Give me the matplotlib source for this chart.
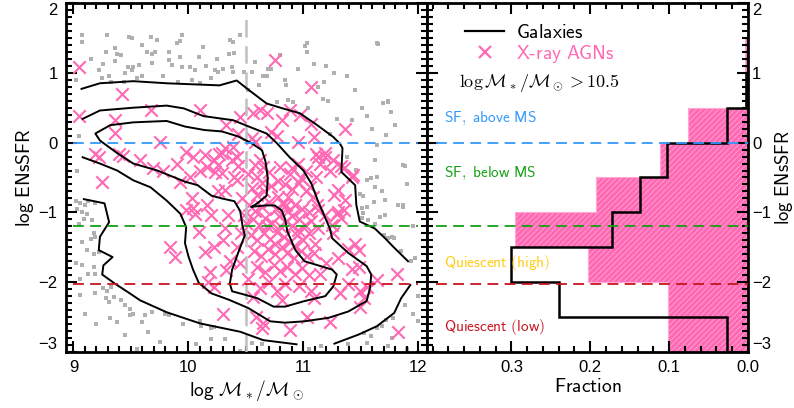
"""
Galaxies vs X-ray AGNs: ENsSFR against stellar mass, and ENsSFR distributions
for the massive (log M* > 10.5) samples.
"""

import numpy as np
import matplotlib.pyplot as plt
from matplotlib.ticker import MultipleLocator
from matplotlib.lines import Line2D

plt.rcParams['font.family'] = ['Liberation Sans', 'DejaVu Sans']
plt.rcParams['mathtext.fontset'] = 'cm'
plt.rcParams['hatch.linewidth'] = 0.6

PINK = '#ff69b4'
GREY = '#b0b0b0'
C_ABOVE = '#3399ff'
C_BELOW = '#16a016'
C_QHIGH = '#ffcc11'
C_QLOW = '#c8141e'

# ============================================================
#  DATA
# ============================================================
# galaxies outside the density contours (log M*, log ENsSFR)
gal_points = [
    (9.07, 1.54), (9.07, 1.44), (9.29, 1.54), (9.28, 1.30), (9.36, 1.35), (9.38, 1.27),
    (9.36, 1.17), (9.26, 1.13), (9.22, 1.04), (9.31, 0.96), (9.25, 0.92), (9.33, 0.87),
    (9.41, 1.25), (9.48, 1.51), (9.51, 1.50), (9.47, 1.08), (9.52, 1.08), (9.51, 1.04),
    (9.57, 1.11), (9.60, 0.96), (9.55, 0.92), (9.45, 0.99), (9.44, 0.87), (9.64, 1.30),
    (9.68, 1.27), (9.71, 1.30), (9.73, 1.47), (9.68, 1.14), (9.67, 1.51), (9.83, 1.30),
    (9.83, 1.19), (9.90, 1.43), (9.93, 1.45), (9.93, 1.23), (9.86, 1.11), (9.94, 1.09),
    (9.91, 0.87), (9.94, 1.54), (9.02, 0.89), (10.36, 1.47), (10.39, 1.44), (10.45, 1.54),
    (10.13, 1.37), (10.35, 1.27), (10.40, 1.28), (10.09, 1.23), (10.01, 1.08), (10.06, 1.04),
    (10.23, 1.04), (10.26, 1.01), (10.30, 1.06), (10.38, 1.08), (10.39, 1.01), (10.20, 0.92),
    (10.03, 0.89), (10.10, 0.85), (10.48, 1.01), (10.52, 0.75), (10.55, 1.01), (10.65, 0.96),
    (10.68, 0.96), (10.69, 1.06), (10.72, 1.06), (10.61, 0.82), (10.84, 0.89), (10.85, 0.82),
    (10.77, 0.58), (10.87, 0.61), (10.91, 0.58), (11.01, 1.39), (11.65, 1.41), (11.03, 1.42),
    (11.03, 1.30), (11.09, 1.12), (11.27, 0.99), (11.38, 0.96), (11.18, 0.87), (11.13, 0.80),
    (11.17, 0.62), (11.21, 0.59), (11.04, 0.49), (11.51, 0.50), (11.55, 0.38), (11.69, 0.57),
    (11.74, 0.60), (11.76, 0.44), (11.29, 0.34), (11.42, 0.33),
    (9.15, 1.20), (9.60, 1.40), (9.78, 0.95), (10.15, 1.10), (10.25, 1.20), (10.58, 1.15),
    (10.80, 1.25), (10.95, 1.05), (11.20, 1.10), (11.45, 0.75), (11.60, 0.20), (11.80, 0.25),
    (11.23, 0.13), (11.64, -0.03), (11.72, 0.11), (11.87, -0.32), (11.62, -0.25), (11.38, -0.20),
    (11.36, -0.37), (11.46, -0.39), (11.55, -0.54), (11.59, -0.51), (11.64, -0.50), (11.62, -0.63),
    (11.49, -0.73), (11.52, -0.77), (11.68, -0.70), (11.71, -0.82), (11.82, -0.89), (11.87, -0.92),
    (11.51, -0.94), (11.55, -0.92), (11.52, -1.01), (11.51, -1.08), (11.56, -1.11), (11.71, -1.04),
    (11.62, -1.16), (11.70, -1.32), (11.77, -1.35), (11.61, -0.85), (11.67, -1.07), (11.87, -0.90),
    (11.88, -0.33), (11.64, 1.42), (11.74, 0.58), (11.90, -0.60), (11.95, -1.20), (11.85, -1.55),
    (11.74, -1.37), (11.79, -1.37), (11.94, -1.70), (11.97, -1.65), (12.00, -2.20), (12.00, -2.56),
    (11.88, -2.32), (11.72, -2.54), (11.78, -2.51), (11.68, -2.63), (11.64, -2.66), (11.77, -2.80),
    (11.59, -2.77), (11.55, -2.87), (11.39, -2.89), (11.74, -2.92), (11.53, -2.73), (11.90, -2.95),
    (11.95, -2.45),
    (9.05, 0.10), (9.03, -0.40),
    (9.02, -0.83), (9.06, -0.87), (9.10, -0.90), (9.13, -0.84), (9.19, -0.87), (9.03, -0.95),
    (9.07, -1.00), (9.12, -1.03), (9.09, -1.09), (9.16, -1.11), (9.05, -1.16), (9.18, -1.30),
    (9.19, -1.35), (9.15, -1.38), (9.07, -1.42), (9.12, -1.54), (9.18, -1.59), (9.22, -1.57),
    (9.02, -1.73), (9.07, -1.76), (9.18, -1.78), (9.13, -1.88), (9.19, -1.88), (9.06, -1.95),
    (9.26, -2.09), (9.29, -2.12), (9.33, -2.07), (9.19, -2.16), (9.06, -2.19), (9.28, -2.23),
    (9.35, -2.21), (9.31, -2.28), (9.41, -2.26), (9.45, -2.33), (9.49, -2.38), (9.52, -2.45),
    (9.49, -2.47), (9.62, -2.47), (9.68, -2.43), (9.60, -2.57), (9.80, -2.45), (9.83, -2.47),
    (9.32, -2.52), (9.38, -2.57), (9.65, -2.71), (9.55, -2.95), (9.10, -2.45), (9.20, -2.60),
    (9.45, -2.75), (9.75, -2.85),
    (10.11, -2.63), (10.20, -2.66), (10.07, -2.89), (10.20, -2.82), (10.32, -2.82), (10.55, -2.87),
    (10.64, -2.89), (10.10, -2.55), (10.22, -2.64), (9.95, -2.60), (11.05, -2.95), (11.15, -2.92),
    (10.45, -2.98),
]

# X-ray AGN hosts (log M*, log ENsSFR)
agn_points = [
    (9.05, 1.09), (9.05, 0.38), (9.42, 0.69), (9.36, 0.33), (9.36, 0.14), (9.67, 0.47),
    (9.75, 0.01), (9.19, -0.17), (9.22, -0.21), (9.25, -0.56), (9.40, -0.16), (9.43, -0.19),
    (9.58, -0.25), (9.69, -0.37), (9.78, -0.40), (9.90, -0.30), (9.93, -0.56), (9.98, -0.13),
    (10.04, -0.21), (10.03, -0.80), (10.10, 0.46), (10.10, -0.40), (10.16, -0.35), (10.22, -0.25),
    (10.27, -0.16), (10.29, -0.44), (10.33, 0.25), (10.39, -0.06), (10.42, -0.21), (10.42, -0.54),
    (10.45, 0.37), (10.43, 0.13), (10.56, 0.42), (10.62, 0.46), (10.68, 0.42), (10.58, 0.01),
    (10.62, -0.25), (10.65, -0.35), (10.72, 0.15), (10.77, 0.10), (10.75, 1.19), (10.81, 0.32),
    (10.88, 0.46), (10.97, 0.39), (10.95, 0.01), (11.07, 0.80), (11.07, 0.27), (11.09, 0.08),
    (11.36, 0.20), (11.33, -0.33), (11.43, -0.47), (11.11, -0.16), (11.14, -0.30), (11.19, -0.21),
    (11.26, -0.25), (11.23, -0.40), (11.11, -0.49), (11.06, -0.64), (11.30, -0.68),
    (10.14, -0.18), (10.01, -0.49), (10.23, -0.42), (10.26, -0.32), (10.29, -0.15), (10.32, -0.08),
    (10.38, -0.25), (10.40, -0.49), (10.43, -0.34), (10.32, -0.68), (10.26, -0.70), (10.04, -0.94),
    (10.16, -0.89), (10.20, -1.04), (10.34, -1.04), (10.32, -1.23), (10.55, 0.06), (10.58, -0.32),
    (10.64, -0.58), (10.90, -0.37), (10.98, -0.51),
    (9.84, -1.50), (9.88, -1.64), (9.98, -0.97), (10.06, -1.02), (10.09, -1.28), (10.14, -1.57),
    (10.22, -1.50), (10.19, -1.85), (10.17, -2.00), (10.22, -2.07), (10.30, -2.45), (10.33, -1.83),
    (10.36, -1.69), (10.30, -1.40), (10.45, -1.73), (10.48, -1.04), (10.42, -1.50), (10.56, -2.21),
    (10.59, -2.50), (10.65, -2.59), (10.64, -2.66), (10.81, -2.26), (10.77, -2.12), (10.88, -2.69),
    (11.03, -2.50), (11.09, -2.23), (11.07, -2.12), (11.23, -2.57), (11.32, -2.16), (11.39, -2.02),
    (11.42, -1.81), (11.49, -2.12), (11.49, -2.36), (11.53, -2.23), (11.55, -2.07), (11.64, -1.97),
    (11.48, -1.78), (11.81, -1.88), (11.82, -2.71), (11.45, -1.45), (11.39, -1.52), (11.48, -1.54),
    (11.26, -1.30), (11.29, -1.02), (11.35, -0.97), (11.30, -1.66), (11.20, -1.73), (11.14, -1.88),
    (11.13, -0.20), (11.19, -0.15), (11.35, -0.37), (11.42, -0.49), (11.27, -0.75), (11.36, -0.82),
    (11.30, -0.99), (11.33, -1.08), (11.19, -1.04), (11.13, -0.97), (11.25, -1.18),
    (10.55, -0.65), (10.60, -0.75), (10.66, -0.70), (10.72, -0.62), (10.78, -0.55), (10.84, -0.60),
    (10.90, -0.66), (10.96, -0.58), (11.02, -0.70), (11.08, -0.78), (10.53, -0.90), (10.58, -0.98),
    (10.64, -0.92), (10.70, -0.85), (10.76, -0.95), (10.82, -0.88), (10.87, -0.98), (10.93, -0.90),
    (10.99, -0.95), (11.05, -1.00), (11.12, -0.90), (10.56, -1.10), (10.61, -1.18), (10.67, -1.08),
    (10.73, -1.15), (10.79, -1.05), (10.85, -1.12), (10.90, -1.20), (10.96, -1.10), (11.01, -1.18),
    (11.07, -1.12), (11.13, -1.22), (10.54, -1.32), (10.60, -1.40), (10.66, -1.30), (10.71, -1.38),
    (10.77, -1.28), (10.83, -1.35), (10.88, -1.42), (10.94, -1.32), (11.00, -1.40), (11.05, -1.30),
    (11.10, -1.45), (10.57, -1.55), (10.63, -1.62), (10.69, -1.52), (10.75, -1.60), (10.81, -1.50),
    (10.86, -1.58), (10.92, -1.65), (10.98, -1.55), (11.03, -1.62), (11.09, -1.58), (10.60, -1.78),
    (10.67, -1.85), (10.74, -1.76), (10.80, -1.84), (10.86, -1.78), (10.93, -1.88), (10.99, -1.80),
    (11.05, -1.90), (10.70, -2.00), (10.84, -2.02), (10.96, -2.05), (10.52, -0.45), (10.60, -0.50),
    (10.70, -0.42), (10.80, -0.35), (10.88, -0.45), (10.95, -0.30), (11.02, -0.40), (10.52, -1.95),
    (10.62, -2.08), (10.87, -0.78), (10.80, -1.20), (10.90, -1.05), (10.85, -0.90), (10.75, -1.45),
    (10.95, -1.25), (10.68, -1.20), (10.78, -0.78), (10.92, -1.48), (10.47, -0.80), (10.50, -1.15),
    (10.46, -1.30),
]

# galaxy density contours (open where they leave the sampled region)
contour_outer_top = [
    (9.07, 0.77), (9.23, 0.85), (9.52, 0.88), (9.81, 0.85), (10.27, 0.82), (10.42, 0.89),
    (10.52, 0.76), (10.68, 0.56), (10.82, 0.49), (10.97, 0.42), (11.12, 0.25), (11.26, 0.08),
    (11.32, -0.02), (11.34, -0.08), (11.33, -0.42), (11.45, -0.61), (11.46, -0.89), (11.49, -1.13),
    (11.62, -1.23), (11.71, -1.37), (11.78, -1.49), (11.91, -1.70),
]
contour_outer_left = [
    (9.09, -0.81), (9.27, -0.87), (9.31, -1.14), (9.23, -1.35), (9.22, -1.54), (9.34, -1.64),
    (9.26, -1.76), (9.25, -1.89), (9.36, -2.02), (9.49, -2.16), (9.58, -2.26), (9.81, -2.43),
    (10.10, -2.59), (10.45, -2.71), (10.65, -2.83), (10.94, -2.89),
]
contour_outer_right = [
    (11.93, -2.04), (11.85, -2.23), (11.79, -2.44), (11.64, -2.63), (11.48, -2.75), (11.27, -2.88),
]
contour_mid = [
    (9.08, 0.34), (9.23, 0.46), (9.52, 0.50), (9.81, 0.53), (9.96, 0.49), (10.13, 0.38),
    (10.39, 0.32), (10.54, 0.22), (10.68, 0.13), (10.77, -0.01), (10.88, -0.21), (11.00, -0.40),
    (11.07, -0.59), (11.13, -0.85), (11.23, -1.23), (11.25, -1.37), (11.39, -1.58), (11.55, -1.77),
    (11.59, -1.89), (11.58, -2.08), (11.55, -2.27), (11.39, -2.42), (11.22, -2.51), (11.01, -2.56),
    (10.84, -2.58), (10.71, -2.56), (10.64, -2.49), (10.52, -2.37), (10.35, -2.25), (10.20, -2.16),
    (10.09, -2.01), (10.04, -1.82), (10.00, -1.63), (9.97, -1.44), (9.98, -1.21), (9.93, -1.02),
    (9.81, -0.83), (9.67, -0.64), (9.52, -0.54), (9.38, -0.40), (9.23, -0.30), (9.08, -0.21),
]
# innermost level: star-forming lobe joined to the quiescent lobe through a neck
contour_inner = [
    (10.55, -0.92), (10.67, -0.90), (10.75, -0.90), (10.81, -0.97), (10.84, -1.09), (10.86, -1.27),
    (10.93, -1.54), (11.01, -1.70), (11.25, -1.82), (11.29, -1.89), (11.26, -2.06), (11.19, -2.20),
    (11.01, -2.27), (10.84, -2.35), (10.74, -2.35), (10.60, -2.23), (10.47, -2.17), (10.38, -2.13),
    (10.36, -2.02), (10.38, -1.82), (10.43, -1.59), (10.49, -1.33), (10.47, -1.19), (10.45, -0.98),
    (10.40, -0.84), (10.29, -0.80), (10.20, -0.76), (10.08, -0.61), (9.97, -0.56), (9.73, -0.40),
    (9.52, -0.30), (9.38, -0.15), (9.23, 0.03), (9.19, 0.13), (9.32, 0.25), (9.52, 0.29),
    (9.81, 0.31), (9.97, 0.23), (10.14, 0.18), (10.29, 0.16), (10.43, 0.09), (10.55, -0.01),
    (10.64, -0.11), (10.67, -0.27), (10.69, -0.51), (10.68, -0.76), (10.60, -0.87), (10.55, -0.92),
]
contour_paths = [contour_outer_top, contour_outer_left, contour_outer_right,
                 contour_mid, contour_inner]

# ENsSFR class boundaries
ensfr_above_ms = 0.0
ensfr_below_ms = -1.2
ensfr_quiescent = -2.03
mass_cut = 10.5

# ENsSFR histograms for log M* > 10.5
ensfr_edges = [-3.0, -2.5, -2.0, -1.5, -1.0, -0.5, 0.0, 0.5, 1.0, 1.5]
frac_gal = [0.027, 0.240, 0.300, 0.173, 0.137, 0.103, 0.027, 0.003, 0.0]
frac_agn = [0.101, 0.101, 0.203, 0.296, 0.193, 0.111, 0.076, 0.004, 0.004]

ensfr_ticks = [-3, -2, -1, 0, 1, 2]

gal_mass, gal_ensfr = np.array(gal_points).T
agn_mass, agn_ensfr = np.array(agn_points).T

# ============================================================
#  FIGURE
# ============================================================
W, H = 794, 408
fig = plt.figure(figsize=(W / 100, H / 100), dpi=100)
ax1 = fig.add_axes([66 / W, 56 / H, 361 / W, 349 / H])
ax2 = fig.add_axes([427 / W, 56 / H, 321 / W, 349 / H])

dash = (0, (6, 3.5))
for ax in (ax1, ax2):
    for sp in ax.spines.values():
        sp.set_linewidth(2.0)
    ax.tick_params(which='both', direction='in', top=True, right=True, width=1.5,
                   labelsize=12)
    ax.tick_params(which='major', length=8)
    ax.tick_params(which='minor', length=4)
    ax.set_ylim(-3, 2)
    ax.set_yticks(ensfr_ticks)
    ax.yaxis.set_minor_locator(MultipleLocator(0.1))
ax1.tick_params(axis='both', pad=6)
ax2.tick_params(axis='x', pad=6)
ax2.tick_params(axis='y', pad=3)

# ---- left: ENsSFR vs stellar mass ----
ax1.scatter(gal_mass, gal_ensfr, s=5, marker='s', color=GREY, lw=0, zorder=1)
ax1.scatter(agn_mass, agn_ensfr, s=80, marker='x', color=PINK, lw=1.5, zorder=2)
for path in contour_paths:
    px, py = np.array(path).T
    ax1.plot(px, py, color='k', lw=1.4, zorder=4)
ax1.vlines(mass_cut, -3, 1.85, color='#c0c0c0', lw=1.8, ls=(0, (7, 3.5)), zorder=3)
for yv, c in [(ensfr_above_ms, C_ABOVE), (ensfr_below_ms, C_BELOW), (ensfr_quiescent, C_QLOW)]:
    ax1.hlines(yv, 9.0, 12.0, color=c, lw=1.3, ls=dash, zorder=5)

ax1.set_xlim(8.935, 12.075)
ax1.xaxis.set_major_locator(MultipleLocator(1))
ax1.xaxis.set_minor_locator(MultipleLocator(0.1))
ax1.set_xlabel(r'$\mathsf{log}\ \mathcal{M}_*/\mathcal{M}_\odot$', fontsize=14, labelpad=2)
ax1.set_ylabel(r'$\mathsf{log\ ENsSFR}$', fontsize=14, labelpad=2)

# ---- right: ENsSFR distributions ----
ax2.stairs(frac_agn, ensfr_edges, orientation='horizontal', fill=True,
           facecolor=PINK, edgecolor='#ffa6d2', hatch='//////', lw=0.8, zorder=1)
ax2.stairs(frac_gal, ensfr_edges, orientation='horizontal', color='k', lw=1.8, zorder=3)
for yv, c in [(ensfr_above_ms, C_ABOVE), (ensfr_below_ms, C_BELOW), (ensfr_quiescent, C_QLOW)]:
    ax2.hlines(yv, 0.395, 0.0, color=c, lw=1.3, ls=dash, zorder=4)

ax2.set_xlim(0.407, 0.0)
ax2.set_xticks([0.3, 0.2, 0.1, 0.0])
ax2.xaxis.set_minor_locator(MultipleLocator(0.02))
ax2.xaxis.set_major_formatter(plt.FormatStrFormatter('%.1f'))
ax2.tick_params(labelleft=False, labelright=True)
ax2.yaxis.set_label_position('right')
ax2.set_ylabel(r'$\mathsf{log\ ENsSFR}$', fontsize=13.5, labelpad=1)
ax2.set_xlabel(r'$\mathsf{Fraction}$', fontsize=14, labelpad=2)

# end labels of the ENsSFR axes sit inside the frame
yt1 = ax1.yaxis.get_major_ticks()
yt1[0].label1.set_va('bottom')
yt1[-1].label1.set_va('top')
yt2 = ax2.yaxis.get_major_ticks()
yt2[0].label2.set_va('bottom')
yt2[-1].label2.set_va('top')

handles = [Line2D([], [], color='k', lw=1.6),
           Line2D([], [], color=PINK, marker='x', ls='none', ms=8, mew=1.6)]
leg = ax2.legend(handles, [r'$\mathsf{Galaxies}$', r'$\mathsf{X\text{-}ray\ AGNs}$'],
                 loc='upper left', bbox_to_anchor=(0.065, 0.99), frameon=False,
                 fontsize=14, handlelength=2.0, handletextpad=0.6, labelspacing=0.05)
leg.get_texts()[1].set_color(PINK)
ax2.text(0.10, 0.772, r'$\log \mathcal{M}_*/\mathcal{M}_\odot > 10.5$', transform=ax2.transAxes,
         fontsize=13, va='center', ha='left')

cls_text = [(0.35, r'$\mathsf{SF,\ above\ MS}$', C_ABOVE),
            (-0.44, r'$\mathsf{SF,\ below\ MS}$', C_BELOW),
            (-1.73, r'$\mathsf{Quiescent\ (high)}$', C_QHIGH),
            (-2.64, r'$\mathsf{Quiescent\ (low)}$', C_QLOW)]
for yv, s, c in cls_text:
    ax2.text(0.386, yv, s, color=c, fontsize=11, va='center', ha='left')

fig.savefig('out.png', dpi=100)
